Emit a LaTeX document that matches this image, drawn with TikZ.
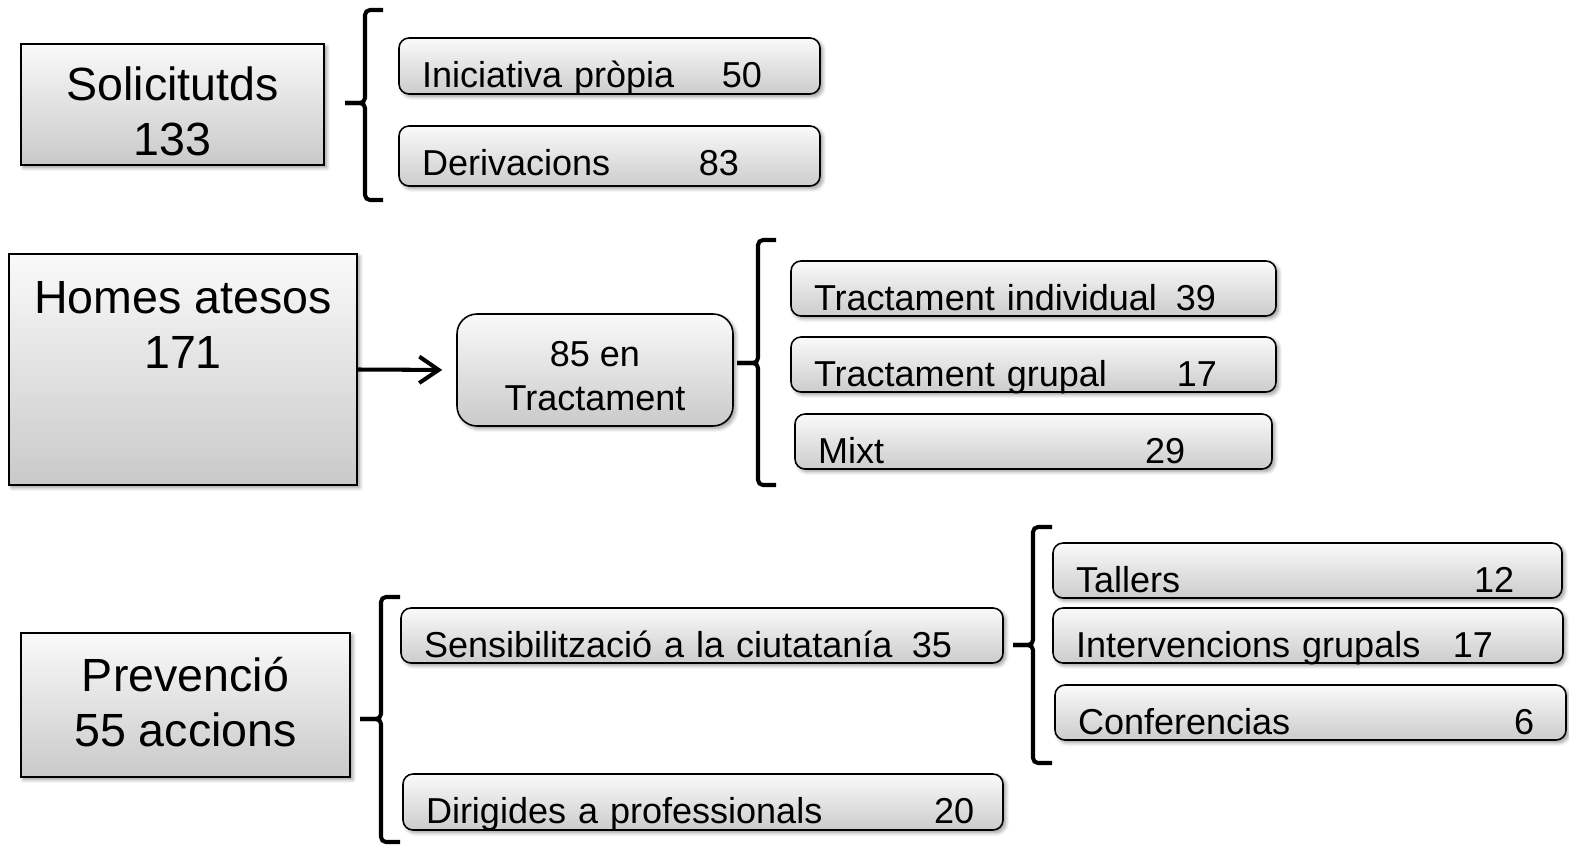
\documentclass[tikz,border=0pt]{standalone}
\usepackage{fontspec}
\setmainfont{Liberation Sans}
\usetikzlibrary{arrows.meta,shadows.blur}

\newlength\pxu
\setlength\pxu{0.02cm}

\tikzset{
  bigbox/.style={draw, line width=0.9pt, top color=gray!4, bottom color=gray!42,
    inner sep=0pt, font=\fontsize{26.5}{31.8}\selectfont,
    blur shadow={shadow blur steps=6, shadow xshift=1.5pt, shadow yshift=-1.5pt}},
  midbox/.style={bigbox, rounded corners=20\pxu, font=\fontsize{20.5}{25.6}\selectfont},
  itembox/.style={draw, line width=0.9pt, rounded corners=10\pxu, top color=gray!4, bottom color=gray!40,
    inner xsep=23\pxu, inner ysep=0pt, align=left, text height=49\pxu, text depth=6\pxu,
    font=\fontsize{20.5}{24.6}\selectfont,
    blur shadow={shadow blur steps=6, shadow xshift=1.5pt, shadow yshift=-1.5pt}},
  brace/.style={line width=2.3pt, rounded corners=5\pxu},
  arr/.style={line width=2.3pt, -{Straight Barb[length=11pt,width=15pt]}}
}

\begin{document}
\begin{tikzpicture}[x=0.02cm, y=-0.02cm]
  \useasboundingbox (0,0) rectangle (1569,845);

  % solicituds
  \node[bigbox, minimum width=303\pxu, text height=56\pxu, text depth=65\pxu] (sol) at (172.5,104.5)
    {\begin{tabular}[t]{@{}c@{}}Solicitutds\\133\end{tabular}};
  \draw[brace] (383,10) -- (365,10) -- (365,103) -- (345,103);
  \draw[brace] (345,103) -- (365,103) -- (365,200) -- (383,200);
  \node[itembox, text width=375\pxu, text depth=7\pxu] (ini) at (609.5,66)
    {\makebox[300\pxu][l]{Iniciativa pròpia}50};
  \node[itembox, text width=375\pxu, text depth=11\pxu] (der) at (609.5,156)
    {\makebox[277\pxu][l]{Derivacions}83};

  % homes atesos
  \node[bigbox, minimum width=348\pxu, text height=59\pxu, text depth=172\pxu] (homes) at (183,369.5)
    {\begin{tabular}[t]{@{}c@{}}Homes atesos\\171\end{tabular}};
  \node[midbox, minimum width=276\pxu, text height=52\pxu, text depth=60\pxu] (tract) at (595,370)
    {\begin{tabular}[t]{@{}c@{}}85 en\\Tractament\end{tabular}};
  \draw[arr, shorten >=14\pxu] (homes.east) -- (tract.west);
  \draw[brace] (776,240) -- (758,240) -- (758,363) -- (737,363);
  \draw[brace] (737,363) -- (758,363) -- (758,485) -- (776,485);
  \node[itembox, text width=439\pxu] (ind) at (1033.5,288.5)
    {\makebox[362\pxu][l]{Tractament individual}39};
  \node[itembox, text width=439\pxu] (grp) at (1033.5,364.5)
    {\makebox[363\pxu][l]{Tractament grupal}17};
  \node[itembox, text width=431\pxu] (mix) at (1033.5,441.5)
    {\makebox[327\pxu][l]{Mixt}29};

  % prevencio
  \node[bigbox, minimum width=329\pxu, text height=58\pxu, text depth=86\pxu] (prev) at (185.5,705)
    {\begin{tabular}[t]{@{}c@{}}Prevenció\\55 accions\end{tabular}};
  \draw[brace] (400,597) -- (381,597) -- (381,719) -- (360,719);
  \draw[brace] (360,719) -- (381,719) -- (381,842) -- (400,842);
  \node[itembox, text width=556\pxu] (sens) at (702,635.5)
    {\makebox[488\pxu][l]{Sensibilització a la ciutatanía}35};
  \node[itembox, text width=554\pxu, text depth=7\pxu] (dir) at (703,802)
    {\makebox[508\pxu][l]{Dirigides a professionals}20};
  \draw[brace] (1052,527) -- (1033,527) -- (1033,645) -- (1013,645);
  \draw[brace] (1013,645) -- (1033,645) -- (1033,763) -- (1052,763);
  \node[itembox, text width=463\pxu] (tal) at (1307.5,570.5)
    {\makebox[398\pxu][l]{Tallers}12};
  \node[itembox, text width=464\pxu] (intv) at (1308,635.5)
    {\makebox[377\pxu][l]{Intervencions grupals}17};
  \node[itembox, text width=465\pxu] (conf) at (1310.5,712.5)
    {\makebox[436\pxu][l]{Conferencias}6};
\end{tikzpicture}
\end{document}
